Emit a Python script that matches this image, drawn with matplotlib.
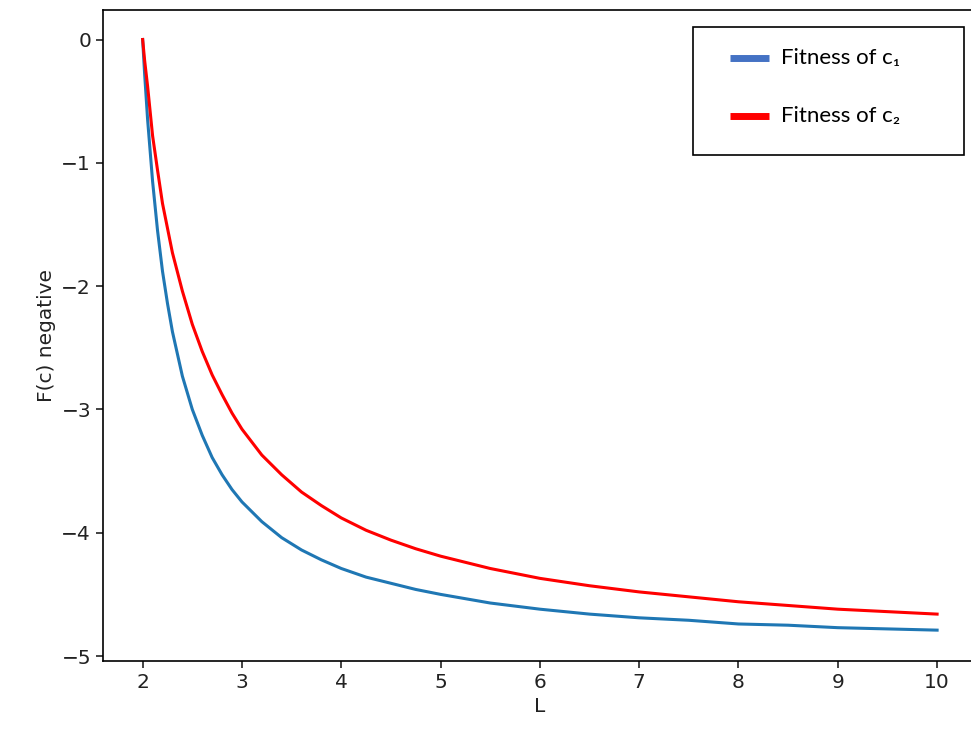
import matplotlib
matplotlib.use("Agg")
import matplotlib.pyplot as plt
from matplotlib.lines import Line2D
from matplotlib.patches import Rectangle

# values (same L grid for both curves)
L = [2.0, 2.02, 2.05, 2.1, 2.15, 2.2, 2.25, 2.3, 2.4, 2.5,
     2.6, 2.7, 2.8, 2.9, 3.0, 3.2, 3.4, 3.6, 3.8, 4.0,
     4.25, 4.5, 4.75, 5.0, 5.5, 6.0, 6.5, 7.0, 7.5, 8.0,
     8.5, 9.0, 9.5, 10.0]
F_c1 = [0.0, -0.28, -0.65, -1.15, -1.55, -1.88, -2.14, -2.37, -2.73, -3.00,
        -3.21, -3.39, -3.53, -3.65, -3.75, -3.91, -4.04, -4.14, -4.22, -4.29,
        -4.36, -4.41, -4.46, -4.50, -4.57, -4.62, -4.66, -4.69, -4.71, -4.74,
        -4.75, -4.77, -4.78, -4.79]
F_c2 = [0.0, -0.17, -0.38, -0.78, -1.06, -1.33, -1.53, -1.73, -2.04, -2.31,
        -2.53, -2.72, -2.88, -3.03, -3.16, -3.37, -3.53, -3.67, -3.78, -3.88,
        -3.98, -4.06, -4.13, -4.19, -4.29, -4.37, -4.43, -4.48, -4.52, -4.56,
        -4.59, -4.62, -4.64, -4.66]

labels = ["Fitness of c\u2081", "Fitness of c\u2082"]
legend_colors = ["#4472C4", "red"]

fig = plt.figure(figsize=(9.71, 7.34), dpi=100)
ax = fig.add_axes([0.106, 0.0995, 0.900, 0.887])

ax.plot(L, F_c1, color="#1f77b4", lw=2.2)
ax.plot(L, F_c2, color="red", lw=2.2)

ax.set_xlim(1.6, 10.4)
ax.set_ylim(-5.04, 0.24)
ax.set_xticks(range(2, 11))
ax.set_yticks(range(-5, 1))
ax.tick_params(labelsize=14.5, length=5, width=1.2, colors="#222222")
for s in ax.spines.values():
    s.set_linewidth(1.2)
ax.set_xlabel("L", fontsize=14.5, color="#222222")
ax.set_ylabel("F(c) negative", fontsize=14.5, color="#222222")

# pasted-on style legend box (figure fraction coords)
fig.patches.append(Rectangle((0.7137, 0.7888), 0.2791, 0.1744,
                             transform=fig.transFigure, facecolor="white",
                             edgecolor="black", lw=1.2, zorder=5))
rows = [0.921, 0.8418]
for y, col, lab in zip(rows, legend_colors, labels):
    fig.add_artist(Line2D([0.7518, 0.7920], [y, y], color=col, lw=5,
                          solid_capstyle="butt", transform=fig.transFigure,
                          zorder=6))
    fig.text(0.8043, y, lab, va="center", ha="left", fontsize=16,
             family=["Lato", "DejaVu Sans"], zorder=6)

fig.savefig("out.png", dpi=100)
